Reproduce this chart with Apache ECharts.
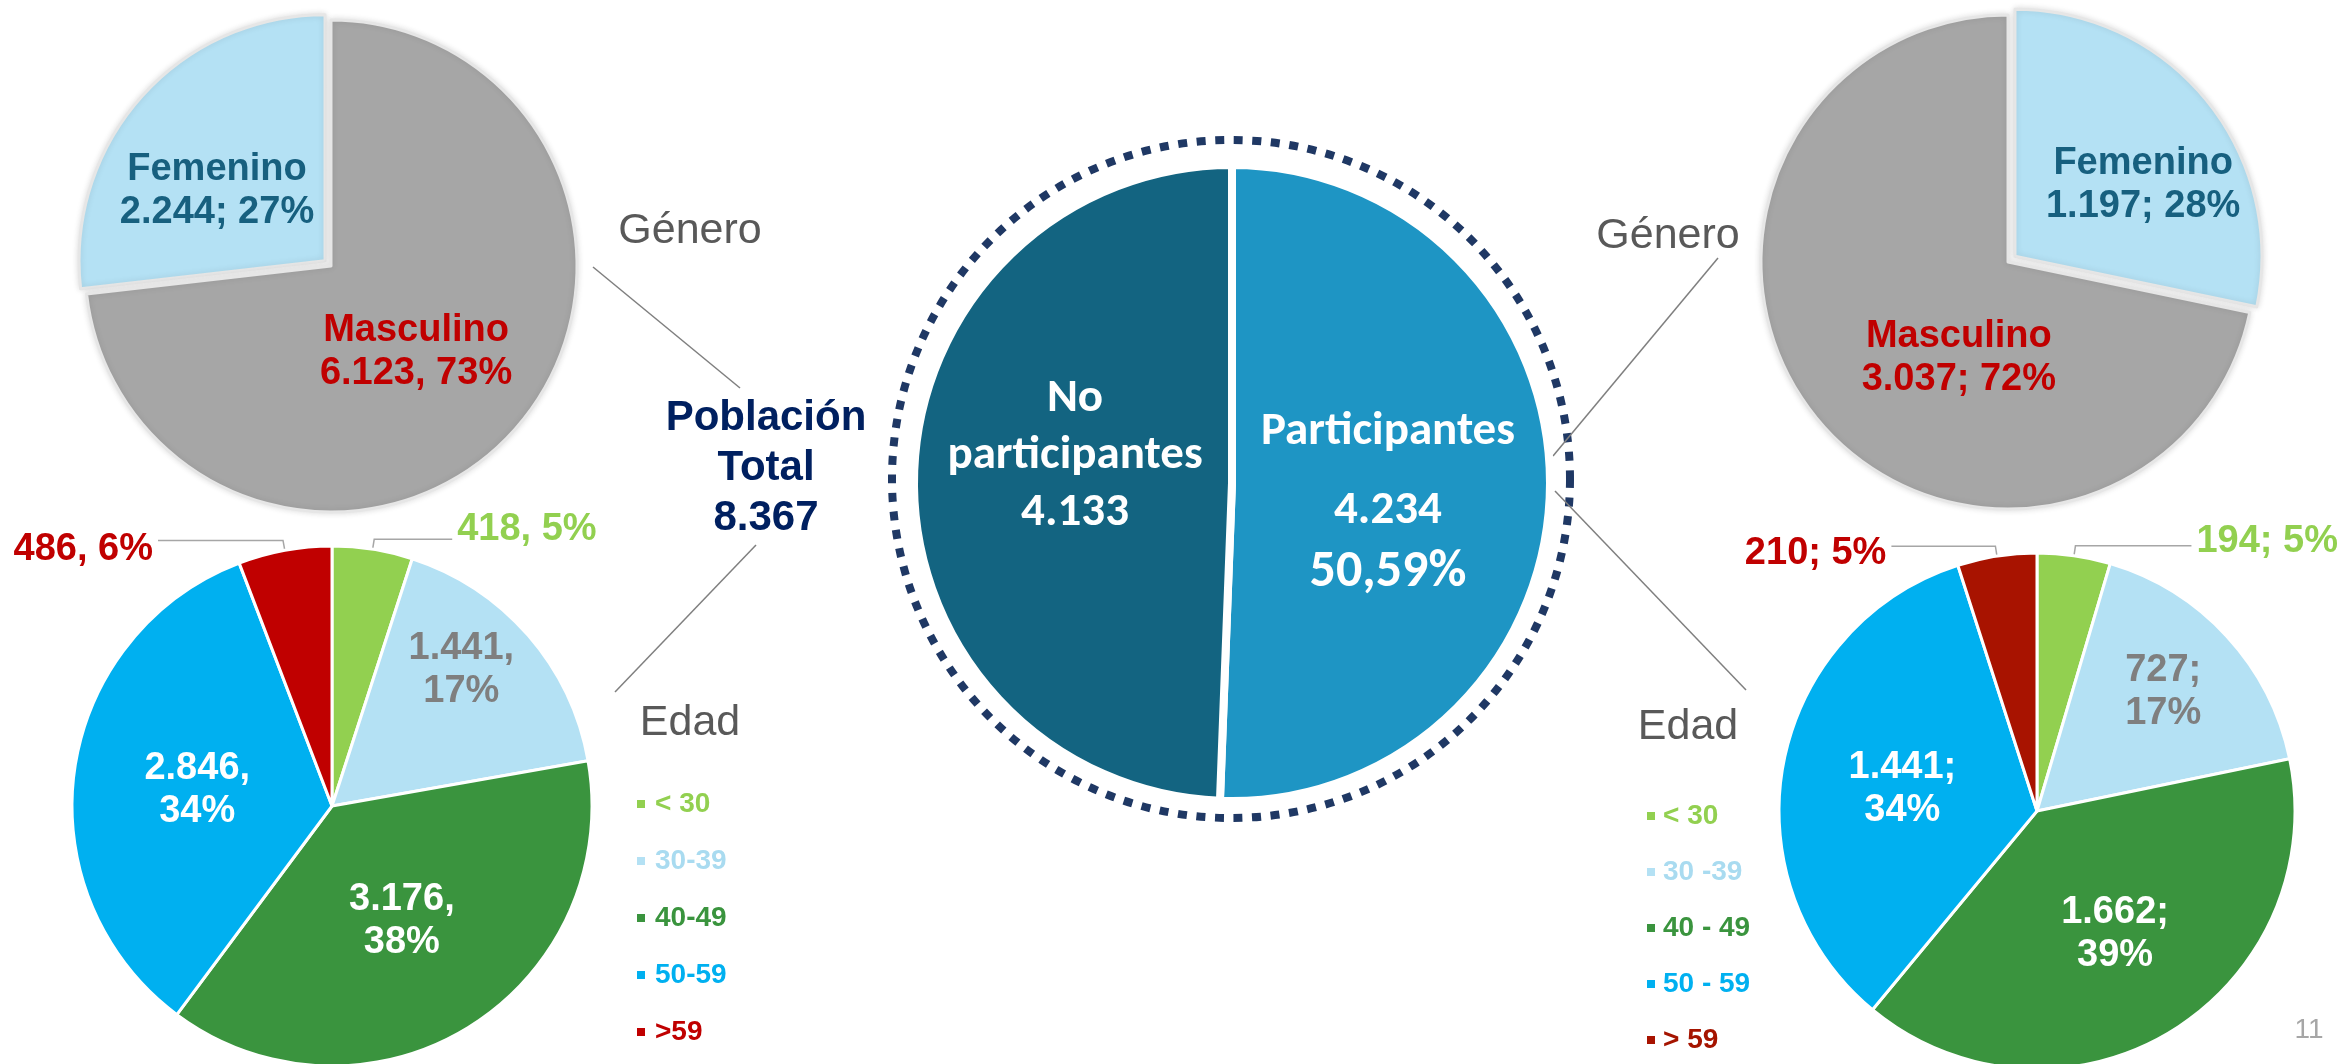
<!DOCTYPE html>
<html>
<head>
<meta charset="utf-8">
<title>Población total - participantes</title>
<script src="https://cdn.jsdelivr.net/npm/echarts/dist/echarts.min.js"></script>
<style>
  html, body { margin: 0; padding: 0; background: #fff; }
  #chart { width: 2341px; height: 1064px; }
</style>
</head>
<body>
<div id="chart"></div>
<script>
// datos
const generoNombres = ['Femenino', 'Masculino'];
const generoTotal = [2244, 6123];
const generoPart = [1197, 3037];
const generoTotalSep = ['; ', ', '];
const generoPartSep = ['; ', '; '];

const edadTotalNombres = ['< 30', '30-39', '40-49', '50-59', '>59'];
const edadPartNombres = ['< 30', '30 -39', '40 - 49', '50 - 59', '> 59'];
const edadTotal = [418, 1441, 3176, 2846, 486];
const edadPart = [194, 727, 1662, 1441, 210];

const poblacionNombres = ['Participantes', 'No participantes'];
const poblacion = [4234, 4133];
const participacionTexto = '50,59%';

// colores
const grisGenero = '#a6a6a6';
const celeste = '#b4e1f4';
const edadColoresTotal = ['#92d050', '#b4e1f4', '#3a943e', '#00b0f0', '#c00000'];
const edadColoresPart = ['#92d050', '#b4e1f4', '#3a943e', '#00b0f0', '#a81300'];
const edadTextoLeyenda = ['#92d050', '#a9dbf0', '#3a943e', '#00b0f0', '#c00000'];
const edadTextoLeyendaPart = ['#92d050', '#a9dbf0', '#3a943e', '#00b0f0', '#a51400'];

const ARIAL = 'Liberation Sans, Arial, sans-serif';
const CALIBRI = 'Carlito, Lato, sans-serif';

function miles(v) {
  return String(v).replace(/\B(?=(\d{3})+(?!\d))/g, '.');
}
function suma(arr) {
  return arr.reduce((a, b) => a + b, 0);
}
function pct(v, arr) {
  return Math.round(v / suma(arr) * 100) + '%';
}
// pequeños ajustes de la posición de las etiquetas interiores
function ajuste(offsets) {
  return function (params) {
    const o = offsets[params.dataIndex];
    return o ? { dx: o[0], dy: o[1] } : {};
  };
}

function datosGenero(valores, sep) {
  return valores.map((v, i) => ({
    name: generoNombres[i],
    value: v,
    selected: i === 0,
    itemStyle: { color: i === 0 ? celeste : grisGenero },
    label: {
      color: i === 0 ? '#17607f' : '#c00000',
      formatter: p => p.name + '\n' + miles(p.value) + sep[i] + pct(p.value, valores)
    }
  }));
}

// etiquetas exteriores: una línea vacía arriba o abajo sube/baja el texto respecto a la guía
function datosEdad(nombres, valores, colores, sep, lineas) {
  return valores.map((v, i) => {
    const item = { name: nombres[i], value: v, itemStyle: { color: colores[i] } };
    if (i === 0 || i === 4) {
      const color = i === 0 ? '#92d050' : '#c00000';
      const desp = lineas[i].shift;
      item.label = {
        position: 'outside',
        color: color,
        formatter: p => {
          const t = '{t|' + miles(p.value) + sep + ' ' + pct(p.value, valores) + '}';
          if (desp < 0) return t + '\n{s| }';
          if (desp > 0) return '{s| }\n' + t;
          return t;
        },
        rich: {
          t: { fontFamily: ARIAL, fontWeight: 'bold', fontSize: 38, lineHeight: 43, color: color },
          s: { fontSize: 2, lineHeight: Math.abs(desp) * 2 }
        }
      };
      item.labelLine = { show: true, length: 10, length2: lineas[i].length2 };
    } else {
      item.label = {
        position: 'inside',
        color: i === 1 ? '#7f7f7f' : '#ffffff',
        formatter: p => miles(p.value) + sep + '\n' + pct(p.value, valores)
      };
    }
    return item;
  });
}

const etiquetaBase = {
  fontFamily: ARIAL,
  fontWeight: 'bold',
  fontSize: 38,
  lineHeight: 43
};

const chart = echarts.init(document.getElementById('chart'));

chart.setOption({
  animation: false,
  backgroundColor: '#ffffff',
  legend: [
    {
      orient: 'vertical',
      left: 630,
      top: 785,
      icon: 'rect',
      itemWidth: 10,
      itemHeight: 10,
      itemGap: 29,
      selectedMode: false,
      textStyle: { fontFamily: ARIAL, fontWeight: 'bold', fontSize: 28, padding: [0, 0, 0, 4] },
      data: edadTotalNombres.map((n, i) => ({ name: n, textStyle: { color: edadTextoLeyenda[i] } }))
    },
    {
      orient: 'vertical',
      left: 1640,
      top: 797,
      icon: 'rect',
      itemWidth: 10,
      itemHeight: 10,
      itemGap: 28,
      selectedMode: false,
      textStyle: { fontFamily: ARIAL, fontWeight: 'bold', fontSize: 28, padding: [0, 0, 0, 2] },
      data: edadPartNombres.map((n, i) => ({ name: n, textStyle: { color: edadTextoLeyendaPart[i] } }))
    }
  ],
  graphic: [
    // anillo punteado
    {
      type: 'circle',
      shape: { cx: 1231, cy: 479, r: 339 },
      style: { fill: 'none', stroke: '#1f3864', lineWidth: 8, lineDash: [9, 9.6] },
      silent: true
    },
    // conectores
    { type: 'line', shape: { x1: 593, y1: 267, x2: 740, y2: 388 }, style: { stroke: '#7f7f7f', lineWidth: 1.5 } },
    { type: 'line', shape: { x1: 756, y1: 545, x2: 615, y2: 692 }, style: { stroke: '#7f7f7f', lineWidth: 1.5 } },
    { type: 'line', shape: { x1: 1553, y1: 456, x2: 1718, y2: 258 }, style: { stroke: '#7f7f7f', lineWidth: 1.5 } },
    { type: 'line', shape: { x1: 1555, y1: 491, x2: 1746, y2: 690 }, style: { stroke: '#7f7f7f', lineWidth: 1.5 } },
    // textos
    {
      type: 'text', x: 690, y: 231,
      style: { text: 'Género', fontFamily: ARIAL, fontSize: 43, fill: '#595959', align: 'center', verticalAlign: 'middle' }
    },
    {
      type: 'text', x: 690, y: 723,
      style: { text: 'Edad', fontFamily: ARIAL, fontSize: 43, fill: '#595959', align: 'center', verticalAlign: 'middle' }
    },
    {
      type: 'text', x: 1668, y: 236,
      style: { text: 'Género', fontFamily: ARIAL, fontSize: 43, fill: '#595959', align: 'center', verticalAlign: 'middle' }
    },
    {
      type: 'text', x: 1688, y: 727,
      style: { text: 'Edad', fontFamily: ARIAL, fontSize: 43, fill: '#595959', align: 'center', verticalAlign: 'middle' }
    },
    {
      type: 'text', x: 766, y: 468,
      style: {
        text: 'Población\nTotal\n' + miles(suma(poblacion)),
        fontFamily: ARIAL, fontWeight: 'bold', fontSize: 42, lineHeight: 50,
        fill: '#002060', align: 'center', verticalAlign: 'middle'
      }
    },
    {
      type: 'text', x: 2309, y: 1030,
      style: { text: '11', fontFamily: ARIAL, fontSize: 28, fill: '#a6a6a6', align: 'center', verticalAlign: 'middle' }
    }
  ],
  series: [
    {
      name: 'Género total',
      type: 'pie',
      center: [331, 266],
      radius: 246,
      startAngle: 90,
      clockwise: false,
      selectedMode: 'multiple',
      selectedOffset: 8,
      avoidLabelOverlap: false,
      emphasis: { disabled: true },
      itemStyle: { borderColor: '#e6e6e6', borderWidth: 3, shadowBlur: 6, shadowColor: 'rgba(0,0,0,0.12)' },
      label: Object.assign({ position: 'inside' }, etiquetaBase),
      labelLine: { show: false },
      labelLayout: ajuste({ 0: [-14, 14], 1: [-9, 2] }),
      data: datosGenero(generoTotal, generoTotalSep)
    },
    {
      name: 'Género participantes',
      type: 'pie',
      center: [2008, 262],
      radius: 247,
      startAngle: 90,
      clockwise: true,
      selectedMode: 'multiple',
      selectedOffset: 9,
      avoidLabelOverlap: false,
      emphasis: { disabled: true },
      itemStyle: { borderColor: '#e6e6e6', borderWidth: 3, shadowBlur: 6, shadowColor: 'rgba(0,0,0,0.12)' },
      label: Object.assign({ position: 'inside' }, etiquetaBase),
      labelLine: { show: false },
      labelLayout: ajuste({ 0: [30, 8], 1: [49, 16] }),
      data: datosGenero(generoPart, generoPartSep)
    },
    {
      name: 'Edad total',
      type: 'pie',
      center: [332, 806],
      radius: 260,
      startAngle: 90,
      clockwise: true,
      avoidLabelOverlap: false,
      emphasis: { disabled: true },
      itemStyle: { borderColor: '#ffffff', borderWidth: 3 },
      label: Object.assign({ position: 'inside', bleedMargin: 0, distanceToLabelLine: 5 }, etiquetaBase),
      labelLine: { show: false, lineStyle: { color: '#a6a6a6', width: 1.5 } },
      labelLayout: ajuste({ 1: [29, -49], 2: [0, 2], 3: [-3, 2] }),
      data: datosEdad(edadTotalNombres, edadTotal, edadColoresTotal, ',', {
        0: { length2: 78, shift: -10 },
        4: { length2: 125, shift: 9 }
      })
    },
    {
      name: 'Edad participantes',
      type: 'pie',
      center: [2037, 811],
      radius: 258,
      startAngle: 90,
      clockwise: true,
      avoidLabelOverlap: false,
      emphasis: { disabled: true },
      itemStyle: { borderColor: '#ffffff', borderWidth: 3 },
      label: Object.assign({ position: 'inside', bleedMargin: 0, distanceToLabelLine: 5 }, etiquetaBase),
      labelLine: { show: false, lineStyle: { color: '#a6a6a6', width: 1.5 } },
      labelLayout: ajuste({ 1: [29, -30], 2: [10, 10], 3: [-5, 3] }),
      data: datosEdad(edadPartNombres, edadPart, edadColoresPart, ';', {
        0: { length2: 116, shift: -4 },
        4: { length2: 104, shift: 7 }
      })
    },
    {
      name: 'Población',
      type: 'pie',
      center: [1232, 483],
      radius: 318,
      startAngle: 90,
      clockwise: true,
      avoidLabelOverlap: false,
      emphasis: { disabled: true },
      itemStyle: { borderColor: '#ffffff', borderWidth: 8 },
      label: {
        position: 'inside',
        color: '#ffffff',
        fontFamily: CALIBRI,
        fontWeight: 'bold',
        formatter: p => {
          if (p.dataIndex === 0) {
            return '{p1|' + p.name + '}\n{p2|' + miles(p.value) + '}\n{p3|' + participacionTexto + '}';
          }
          return p.name.split(' ').map(w => '{a|' + w + '}').join('\n') + '\n{a|' + miles(p.value) + '}';
        },
        rich: {
          a: { fontFamily: CALIBRI, fontWeight: 'bold', color: '#fff', fontSize: 47, lineHeight: 57 },
          p1: { fontFamily: CALIBRI, fontWeight: 'bold', color: '#fff', fontSize: 47, lineHeight: 88 },
          p2: { fontFamily: CALIBRI, fontWeight: 'bold', color: '#fff', fontSize: 47, lineHeight: 70 },
          p3: { fontFamily: CALIBRI, fontWeight: 'bold', color: '#fff', fontSize: 52, lineHeight: 54 }
        }
      },
      labelLine: { show: false },
      labelLayout: ajuste({ 0: [-6, 8], 1: [5, -24] }),
      data: poblacion.map((v, i) => ({
        name: poblacionNombres[i],
        value: v,
        itemStyle: { color: i === 0 ? '#1e95c4' : '#136481' }
      }))
    }
  ]
});
</script>
</body>
</html>
